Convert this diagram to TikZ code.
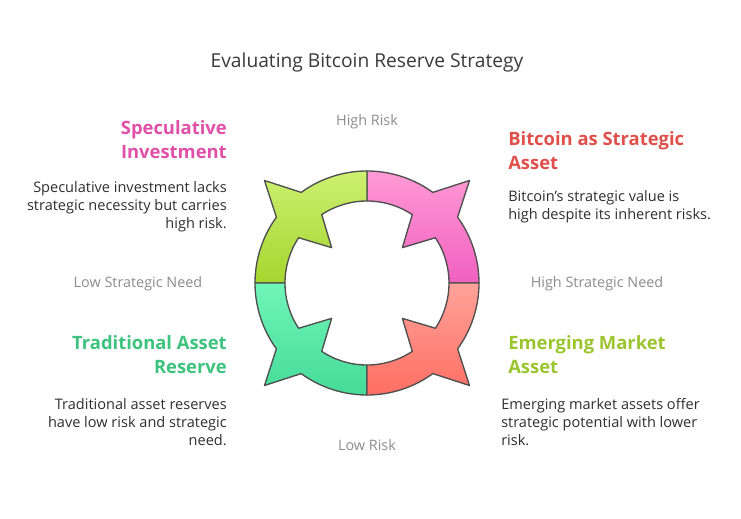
\documentclass[tikz,border=0pt]{standalone}
\usepackage{fontspec}
\setmainfont{Open Sans}
\usetikzlibrary{positioning}

\definecolor{ttl}{HTML}{3A3A3A}
\definecolor{axis}{HTML}{8C8C8C}
\definecolor{body}{HTML}{2E2E2E}
\definecolor{hpink}{HTML}{E04FA8}
\definecolor{hred}{HTML}{E0504A}
\definecolor{hgreen}{HTML}{3CC37E}
\definecolor{hlime}{HTML}{9CC42F}
\definecolor{pinktop}{HTML}{FF9AD5}
\definecolor{pinkbot}{HTML}{F060C0}
\definecolor{limetop}{HTML}{CDF070}
\definecolor{limebot}{HTML}{A5D62E}
\definecolor{mintop}{HTML}{70F5B8}
\definecolor{minbot}{HTML}{45DB98}
\definecolor{coraltop}{HTML}{FFA39A}
\definecolor{coralbot}{HTML}{FF6E62}

\tikzset{
  axislabel/.style={text=axis, font=\fontsize{10.8}{13}\selectfont},
  heading/.style={font=\bfseries\fontsize{13.8}{18}\selectfont, inner sep=0pt},
  desc/.style={text=body, font=\fontsize{10.9}{13.5}\selectfont, inner sep=0pt},
  quarter/.style={draw=ttl!90, line width=1pt, line join=round}
}

\newcommand{\quarterpath}[1]{%
  (#1:112) arc[start angle=#1, end angle=#1+36, radius=112]
  -- (#1+45:145) -- (#1+54:112)
  arc[start angle=#1+54, end angle=#1+90, radius=112]
  -- (#1+90:82)
  arc[start angle=#1+90, end angle=#1+56.5, radius=82]
  -- (#1+45:50) -- (#1+33.5:82)
  arc[start angle=#1+33.5, end angle=#1, radius=82] -- cycle}

\begin{document}
\begin{tikzpicture}[x=0.75pt, y=0.75pt]
  \useasboundingbox (0,0) rectangle (741,518);

  % title
  \node[text=ttl, font=\fontsize{14.4}{16}\selectfont] (title) at (367,455) {Evaluating Bitcoin Reserve Strategy};

  % ring of four arrows
  \begin{scope}[shift={(367,235)}]
    \shade[quarter, top color=pinktop, bottom color=pinkbot] \quarterpath{0};
    \shade[quarter, top color=limetop, bottom color=limebot] \quarterpath{90};
    \shade[quarter, top color=mintop, bottom color=minbot] \quarterpath{180};
    \shade[quarter, top color=coraltop, bottom color=coralbot] \quarterpath{270};
  \end{scope}

  % axis labels
  \node[axislabel] (highrisk) at (367,396) {High Risk};
  \node[axislabel] (lowrisk) at (367,73) {Low Risk};
  \node[axislabel] (lowneed) at (138,234) {Low Strategic Need};
  \node[axislabel] (highneed) at (597,234) {High Strategic Need};

  % top left
  \node[heading, text=hpink, align=right, anchor=north east] (spechead) at (227,398) {Speculative\\Investment};
  \node[desc, align=right, anchor=north east] (spectext) at (227,337) {Speculative investment lacks\\strategic necessity but carries\\high risk.};

  % top right
  \node[heading, text=hred, align=left, anchor=north west] (btchead) at (508,387) {Bitcoin as Strategic\\Asset};
  \node[desc, align=left, anchor=north west] (btctext) at (508,328) {Bitcoin's strategic value is\\high despite its inherent risks.};

  % bottom left
  \node[heading, text=hgreen, align=right, anchor=north east] (tradhead) at (227,183) {Traditional Asset\\Reserve};
  \node[desc, align=right, anchor=north east] (tradtext) at (227,120) {Traditional asset reserves\\have low risk and strategic\\need.};

  % bottom right
  \node[heading, text=hlime, align=left, anchor=north west] (emhead) at (508,183) {Emerging Market\\Asset};
  \node[desc, align=left, anchor=north west] (emtext) at (501,120) {Emerging market assets offer\\strategic potential with lower\\risk.};
\end{tikzpicture}
\end{document}
